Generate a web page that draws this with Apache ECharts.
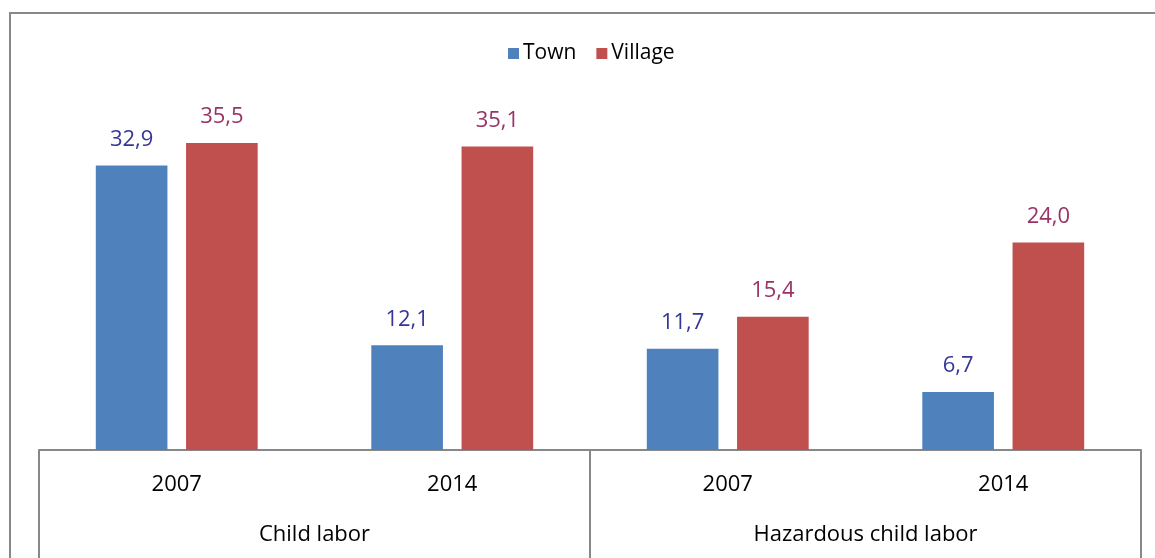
<!DOCTYPE html>
<html>
<head>
<meta charset="utf-8">
<script src="https://cdn.jsdelivr.net/npm/echarts@6/dist/echarts.min.js"></script>
<style>
  html, body { margin: 0; padding: 0; background: #fff; }
  #main { width: 1155px; height: 558px; }
</style>
</head>
<body>
<div id="main"></div>
<script>
// data
const years = ['2007', '2014', '2007', '2014'];
const groups = ['Child labor', 'Hazardous child labor'];
const town = [32.9, 12.1, 11.7, 6.7];
const village = [35.5, 35.1, 15.4, 24.0];

const font = '"Open Sans", "Liberation Sans", sans-serif';
const fmt = function (p) { return p.value.toFixed(1).replace('.', ','); };

let chart = echarts.init(document.getElementById('main'));

let option = {
    animation: false,
    backgroundColor: '#fff',
    textStyle: { fontFamily: font },
    legend: {
        top: 38,
        left: 503,
        itemWidth: 11,
        itemHeight: 11,
        itemGap: 20,
        icon: 'rect',
        textStyle: { fontSize: 21, color: '#000', fontFamily: font, padding: [0, 0, 0, -1] },
        data: ['Town', 'Village']
    },
    grid: { left: 39, right: 14, top: 104, bottom: 108 },
    xAxis: [
        {
            type: 'category',
            data: years,
            position: 'bottom',
            axisLine: { show: true, lineStyle: { color: '#888', width: 2 } },
            axisTick: { show: false },
            axisLabel: { fontSize: 22, color: '#000', margin: 24, fontFamily: font }
        },
        {
            type: 'category',
            data: groups,
            position: 'bottom',
            axisLine: { show: false },
            axisTick: { show: true, length: 108, lineStyle: { color: '#888', width: 2 } },
            axisLabel: { fontSize: 22, color: '#000', margin: 74, fontFamily: font }
        }
    ],
    yAxis: {
        type: 'value',
        min: 0,
        max: 40,
        show: false
    },
    series: [
        {
            name: 'Town',
            type: 'bar',
            xAxisIndex: 0,
            data: town,
            barWidth: '26%',
            barGap: '26%',
            itemStyle: { color: '#4F81BD' },
            label: { show: true, position: 'top', distance: 15, formatter: fmt, fontSize: 22, color: '#35359A', fontFamily: font }
        },
        {
            name: 'Village',
            type: 'bar',
            xAxisIndex: 0,
            data: village,
            barWidth: '26%',
            itemStyle: { color: '#C0504D' },
            label: { show: true, position: 'top', distance: 15, formatter: fmt, fontSize: 22, color: '#993366', fontFamily: font }
        }
    ],
    graphic: [
        {
            type: 'polyline',
            shape: { points: [[10, 558], [10, 13], [1155, 13]] },
            style: { stroke: '#888', lineWidth: 2, fill: null }
        }
    ]
};

chart.setOption(option);
</script>
</body>
</html>
